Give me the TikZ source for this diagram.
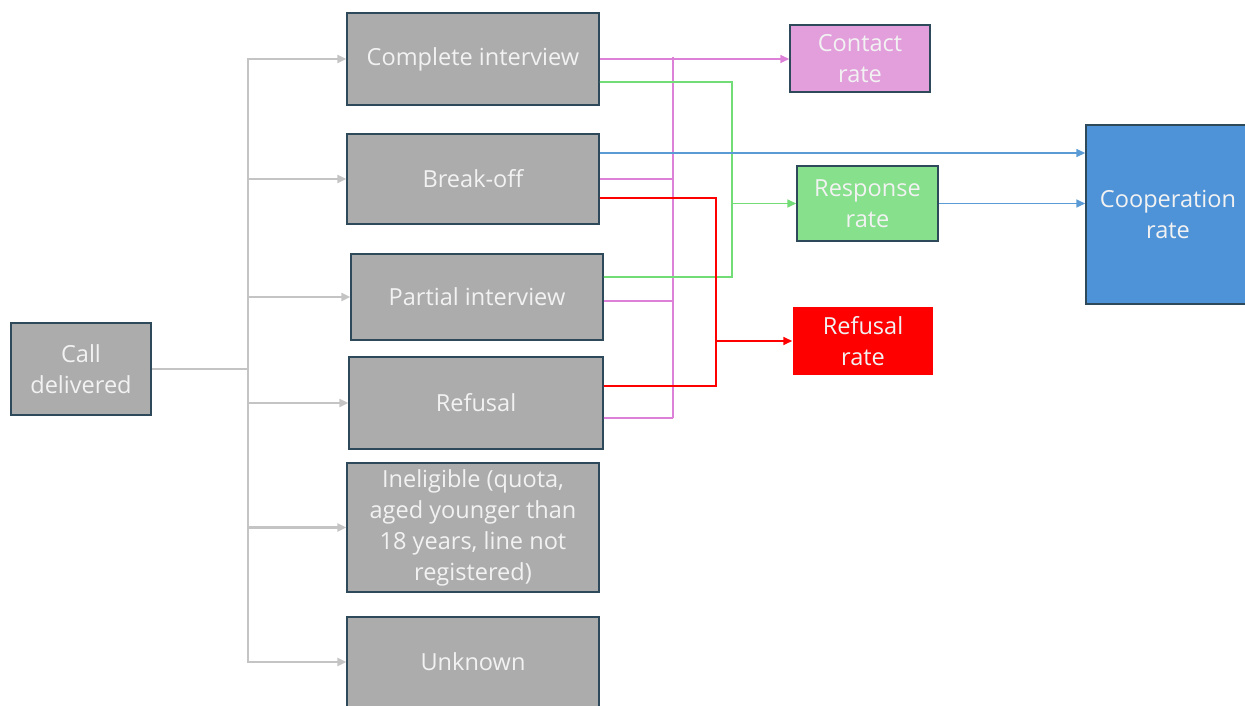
\documentclass[tikz,border=0pt]{standalone}
\usepackage{fontspec}
\setmainfont{Open Sans}
\usetikzlibrary{arrows.meta}
\definecolor{boxgray}{HTML}{ACACAC}
\definecolor{boxedge}{HTML}{2E4A5A}
\definecolor{linegray}{HTML}{C4C4C4}
\definecolor{contactfill}{HTML}{E29FDC}
\definecolor{contactline}{HTML}{DD80D8}
\definecolor{responsefill}{HTML}{86E08C}
\definecolor{responseline}{HTML}{72DC76}
\definecolor{refusalred}{HTML}{FF0000}
\definecolor{coopfill}{HTML}{4E93D8}
\definecolor{coopline}{HTML}{5B9BD5}
\tikzset{
    box/.style={draw=boxedge, line width=0.9pt, fill=boxgray, text=white!95!black, align=center,
        inner sep=2pt, font=\fontsize{13.4}{17.6}\selectfont},
    tip/.style={-{Triangle[length=5pt,width=4.5pt]}},
    grayline/.style={draw=linegray, line width=1.2pt},
    pinkline/.style={draw=contactline, line width=0.9pt},
    greenline/.style={draw=responseline, line width=0.9pt},
    redline/.style={draw=refusalred, line width=0.9pt},
    blueline/.style={draw=coopline, line width=0.9pt}
}
\begin{document}
\begin{tikzpicture}[x=0.02cm, y=-0.02cm]
            \useasboundingbox (0,0) rectangle (1245,706);
            \node[box, minimum width=2.8cm, minimum height=1.84cm] (call) at (81,369) {Call\\delivered};
            \node[box, minimum width=5.04cm, minimum height=1.84cm] (complete) at (473,59) {Complete interview};
            \node[box, minimum width=5.04cm, minimum height=1.8cm] (breakoff) at (473,179) {Break-off};
            \node[box, minimum width=5.04cm, minimum height=1.72cm] (partial) at (477,297) {Partial interview};
            \node[box, minimum width=5.08cm, minimum height=1.84cm] (refusal) at (476,403) {Refusal};
            \node[box, minimum width=5.04cm, minimum height=2.58cm] (ineligible) at (473,527.5) {Ineligible (quota,\\aged younger than\\18 years, line not\\registered)};
            \node[box, minimum width=5.04cm, minimum height=1.8cm] (unknown) at (473,662) {Unknown};
            \node[box, fill=contactfill, minimum width=2.8cm, minimum height=1.34cm] (contactrate) at (860,58.5) {Contact\\rate};
            \node[box, fill=responsefill, minimum width=2.82cm, minimum height=1.5cm] (responserate) at (867.5,203.5) {Response\\rate};
            \node[box, draw=none, fill=refusalred, minimum width=2.8cm, minimum height=1.36cm] (refusalrate) at (863,341) {Refusal\\rate};
            \node[box, fill=coopfill, minimum width=3.28cm, minimum height=3.58cm] (cooprate) at (1168,214.5) {Cooperation\\rate};
    
            \coordinate (trunk) at (248,369);
            \draw[grayline] (call.east) -- (trunk);
            \draw[grayline, tip] (trunk) |- (complete.west);
            \draw[grayline, tip] (trunk) |- (breakoff.west);
            \draw[grayline, tip] (trunk) |- (partial.west);
            \draw[grayline, tip] (trunk) |- (refusal.west);
            \draw[grayline, tip] (trunk) |- (ineligible.west);
            \draw[grayline, tip] (trunk) |- (unknown.west);
    
            \coordinate (pinktop) at (673,57);
            \coordinate (pinkbot) at (673,418);
            \draw[pinkline] (pinktop) -- (pinkbot);
            \draw[pinkline, tip] (complete.east) -- (complete.east -| contactrate.west);
            \draw[pinkline] (breakoff.east) -- (breakoff.east -| pinkbot);
            \draw[pinkline] ([yshift=-0.08cm]partial.east) -- ([yshift=-0.08cm]partial.east -| pinkbot);
            \draw[pinkline] ([yshift=-0.3cm]refusal.east) -- (pinkbot);
    
            \coordinate (greenturn) at (732,277);
            \draw[greenline] ([yshift=-0.46cm]complete.east) -| (greenturn) -- ([yshift=0.4cm]partial.east);
            \draw[greenline, tip] (greenturn |- responserate.west) -- (responserate.west);
    
            \coordinate (redturn) at (716,386);
            \draw[redline] ([yshift=-0.38cm]breakoff.east) -| (redturn) -- ([yshift=0.34cm]refusal.east);
            \draw[redline, tip] (redturn |- refusalrate.west) -- (refusalrate.west);
    
            \draw[blueline, tip] ([yshift=0.52cm]breakoff.east) -- ([yshift=0.52cm]breakoff.east -| cooprate.west);
            \draw[blueline, tip] (responserate.east) -- (responserate.east -| cooprate.west);
    
        \end{tikzpicture}
\end{document}
